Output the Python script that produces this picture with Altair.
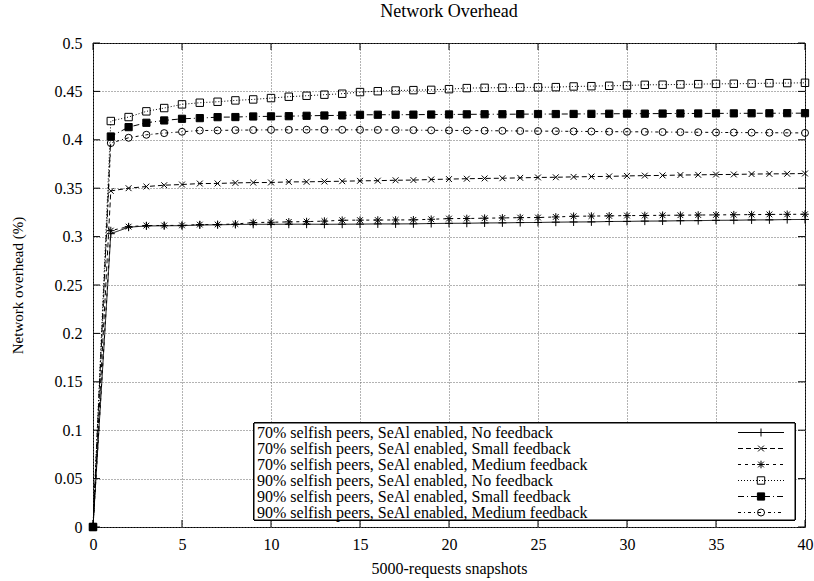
import altair as alt
import pandas as pd

FONT = "Liberation Serif"

# x positions: 5000-request snapshots
snapshots = list(range(0, 41))

labels = [
    "70% selfish peers, SeAl enabled, No feedback",
    "70% selfish peers, SeAl enabled, Small feedback",
    "70% selfish peers, SeAl enabled, Medium feedback",
    "90% selfish peers, SeAl enabled, No feedback",
    "90% selfish peers, SeAl enabled, Small feedback",
    "90% selfish peers, SeAl enabled, Medium feedback",
]

sel70_none = [0.0, 0.3030, 0.3097, 0.3110, 0.3112, 0.3113, 0.3120, 0.3122, 0.3125, 0.3127,
              0.3127, 0.3128, 0.3128, 0.3127, 0.3128, 0.3129, 0.3131, 0.3131, 0.3132, 0.3135,
              0.3137, 0.3138, 0.3141, 0.3142, 0.3145, 0.3146, 0.3149, 0.3151, 0.3152, 0.3156,
              0.3157, 0.3160, 0.3161, 0.3164, 0.3165, 0.3168, 0.3169, 0.3172, 0.3173, 0.3176,
              0.3177]
sel70_small = [0.0, 0.3472, 0.3500, 0.3517, 0.3531, 0.3538, 0.3548, 0.3549, 0.3555, 0.3558,
               0.3559, 0.3565, 0.3566, 0.3569, 0.3572, 0.3576, 0.3578, 0.3582, 0.3584, 0.3590,
               0.3594, 0.3598, 0.3601, 0.3603, 0.3607, 0.3611, 0.3613, 0.3617, 0.3620, 0.3622,
               0.3627, 0.3630, 0.3632, 0.3636, 0.3638, 0.3641, 0.3642, 0.3646, 0.3648, 0.3649,
               0.3652]
sel70_medium = [0.0, 0.3062, 0.3103, 0.3114, 0.3115, 0.3116, 0.3124, 0.3125, 0.3130, 0.3145,
                0.3148, 0.3152, 0.3155, 0.3160, 0.3169, 0.3170, 0.3171, 0.3172, 0.3173, 0.3179,
                0.3186, 0.3187, 0.3190, 0.3193, 0.3196, 0.3197, 0.3203, 0.3210, 0.3212, 0.3214,
                0.3217, 0.3218, 0.3220, 0.3221, 0.3223, 0.3224, 0.3226, 0.3227, 0.3229, 0.3230,
                0.3231]
sel90_none = [0.0, 0.4194, 0.4235, 0.4294, 0.4328, 0.4366, 0.4383, 0.4393, 0.4407, 0.4417,
              0.4431, 0.4445, 0.4455, 0.4466, 0.4476, 0.4493, 0.4502, 0.4509, 0.4513, 0.4516,
              0.4523, 0.4534, 0.4537, 0.4538, 0.4541, 0.4542, 0.4544, 0.4551, 0.4554, 0.4558,
              0.4561, 0.4568, 0.4569, 0.4572, 0.4575, 0.4578, 0.4579, 0.4581, 0.4585, 0.4586,
              0.4589]
sel90_small = [0.0, 0.4034, 0.4131, 0.4176, 0.4200, 0.4217, 0.4224, 0.4234, 0.4235, 0.4241,
               0.4242, 0.4244, 0.4248, 0.4251, 0.4252, 0.4258, 0.4259, 0.4259, 0.4260, 0.4261,
               0.4262, 0.4263, 0.4264, 0.4264, 0.4265, 0.4266, 0.4266, 0.4267, 0.4268, 0.4269,
               0.4270, 0.4270, 0.4271, 0.4272, 0.4272, 0.4273, 0.4273, 0.4274, 0.4274, 0.4275,
               0.4275]
sel90_medium = [0.0, 0.3966, 0.4021, 0.4052, 0.4069, 0.4083, 0.4096, 0.4097, 0.4100, 0.4101,
                0.4103, 0.4103, 0.4104, 0.4103, 0.4103, 0.4103, 0.4102, 0.4101, 0.4100, 0.4098,
                0.4097, 0.4096, 0.4094, 0.4093, 0.4091, 0.4090, 0.4089, 0.4087, 0.4086, 0.4084,
                0.4083, 0.4082, 0.4080, 0.4079, 0.4078, 0.4076, 0.4075, 0.4074, 0.4073, 0.4072,
                0.4071]

x_ticks = [0, 5, 10, 15, 20, 25, 30, 35, 40]
y_ticks = [0, 0.05, 0.1, 0.15, 0.2, 0.25, 0.3, 0.35, 0.4, 0.45, 0.5]

series_values = [sel70_none, sel70_small, sel70_medium, sel90_none, sel90_small, sel90_medium]

# line / point styles, one per series (gnuplot-like)
PLUS = "M-1,0L1,0M0,-1L0,1"
CROSS = "M-0.75,-0.75L0.75,0.75M-0.75,0.75L0.75,-0.75"
STAR = "M-1,0L1,0M0,-1L0,1M-0.75,-0.75L0.75,0.75M-0.75,0.75L0.75,-0.75"
dashes = [[1, 0], [5, 3], [3, 4], [1, 2], [6, 3, 1, 3], [3, 3, 1, 3]]
shapes = [PLUS, CROSS, STAR, "square", "square", "circle"]
fills = ["transparent", "transparent", "transparent", "transparent", "black", "transparent"]
sizes = [64, 49, 64, 49, 49, 49]

rows = []
for lab, vals in zip(labels, series_values):
    for x, v in zip(snapshots, vals):
        rows.append({"snapshot": x, "overhead": v, "series": lab})
df = pd.DataFrame(rows)

W, H = 712, 484

dash_scale = alt.Scale(domain=labels, range=dashes)
shape_scale = alt.Scale(domain=labels, range=shapes)
fill_scale = alt.Scale(domain=labels, range=fills)
size_scale = alt.Scale(domain=labels, range=sizes)

x_enc = alt.X(
    "snapshot:Q",
    scale=alt.Scale(domain=[0, 40], nice=False),
    axis=alt.Axis(
        values=x_ticks, title="5000-requests snapshots", grid=True,
        gridDash=[1, 2], gridColor="#666666", gridOpacity=1,
        tickSize=0, labelPadding=9, labelFont=FONT, labelFontSize=16,
        labelColor="black", titleFont=FONT, titleFontSize=16,
        titleFontWeight="normal", titleColor="black", titleY=41,
        titleBaseline="middle", domain=False, labelFlush=False,
    ),
)
y_enc = alt.Y(
    "overhead:Q",
    scale=alt.Scale(domain=[0, 0.5], nice=False),
    axis=alt.Axis(
        values=y_ticks, format="~g", title="Network overhead (%)", grid=True,
        gridDash=[1, 2], gridColor="#666666", gridOpacity=1,
        tickSize=0, labelPadding=11, labelFont=FONT, labelFontSize=16,
        labelColor="black", titleFont=FONT, titleFontSize=15,
        titleFontWeight="normal", titleColor="black", titleX=-76,
        titleBaseline="middle", domain=False, labelFlush=False,
    ),
)

lines = alt.Chart(df).mark_line(color="black", strokeWidth=1).encode(
    x=x_enc,
    y=y_enc,
    detail="series:N",
    strokeDash=alt.StrokeDash("series:N", scale=dash_scale, legend=None),
)

points = alt.Chart(df).mark_point(filled=True, stroke="black", strokeWidth=1, opacity=1).encode(
    x="snapshot:Q",
    y="overhead:Q",
    shape=alt.Shape("series:N", scale=shape_scale, legend=None),
    fill=alt.Fill("series:N", scale=fill_scale, legend=None),
    size=alt.Size("series:N", scale=size_scale, legend=None),
)

# inward tick marks on all four sides
ytick_df = pd.DataFrame({"v": y_ticks})
xtick_df = pd.DataFrame({"v": x_ticks})
TL = 7
ticks = [
    alt.Chart(ytick_df).mark_rule(color="black").encode(y="v:Q", x=alt.value(0), x2=alt.value(TL)),
    alt.Chart(ytick_df).mark_rule(color="black").encode(y="v:Q", x=alt.value(W - TL), x2=alt.value(W)),
    alt.Chart(xtick_df).mark_rule(color="black").encode(x="v:Q", y=alt.value(H), y2=alt.value(H - TL)),
    alt.Chart(xtick_df).mark_rule(color="black").encode(x="v:Q", y=alt.value(0), y2=alt.value(TL)),
]

# key box in the lower right of the plot
leg_df = pd.DataFrame({"series": labels, "row": list(range(len(labels)))})
LEG_X0, LEG_X1, LEG_Y0, LEG_Y1 = 161, 702, 380, 477
ROW0, ROWH = 389.5, 16
leg_base = alt.Chart(leg_df).transform_calculate(ypix=f"{ROW0} + {ROWH} * datum.row")

legend_box = alt.Chart(leg_df).mark_rect(fill="white", stroke="black", strokeWidth=1).encode(
    x=alt.value(LEG_X0), x2=alt.value(LEG_X1), y=alt.value(LEG_Y0), y2=alt.value(LEG_Y1)
)
legend_text = leg_base.mark_text(
    align="left", baseline="middle", font=FONT, fontSize=16, color="black"
).encode(x=alt.value(LEG_X0 + 3), y=alt.Y("ypix:Q", scale=None), text="series:N")
legend_lines = leg_base.mark_rule(color="black", strokeWidth=1).encode(
    x=alt.value(645), x2=alt.value(691), y=alt.Y("ypix:Q", scale=None),
    strokeDash=alt.StrokeDash("series:N", scale=dash_scale, legend=None),
)
legend_points = leg_base.mark_point(filled=True, stroke="black", strokeWidth=1, opacity=1).encode(
    x=alt.value(668), y=alt.Y("ypix:Q", scale=None),
    shape=alt.Shape("series:N", scale=shape_scale, legend=None),
    fill=alt.Fill("series:N", scale=fill_scale, legend=None),
    size=alt.Size("series:N", scale=size_scale, legend=None),
)

chart = alt.layer(
    lines, points, *ticks, legend_box, legend_text, legend_lines, legend_points
).properties(
    width=W,
    height=H,
    title=alt.TitleParams(
        "Network Overhead", font=FONT, fontSize=18, fontWeight="normal",
        color="black", anchor="middle", offset=14,
    ),
    autosize=alt.AutoSizeParams(type="none"),
    padding={"left": 93, "top": 43, "right": 9, "bottom": 54},
    background="white",
).configure_view(
    stroke="black", strokeWidth=1
)

chart.save("out.html", embed_options={"renderer": "svg", "actions": False})
